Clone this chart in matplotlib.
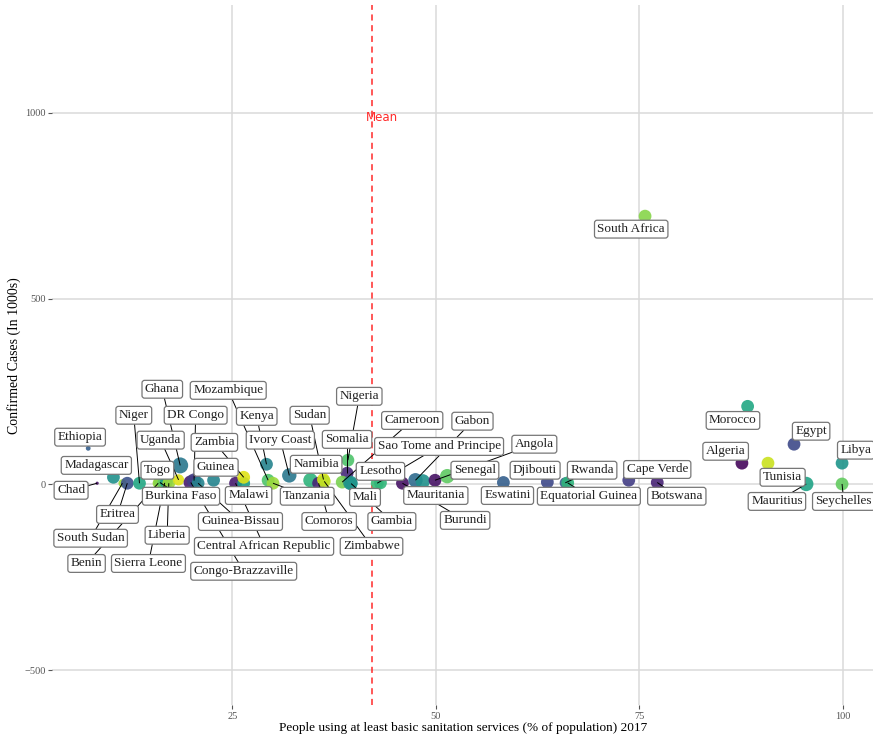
import numpy as np
import matplotlib
matplotlib.use("Agg")
import matplotlib.pyplot as plt

# sanitation access (% of population, 2017) vs confirmed cases (thousands)
countries = [
    "Chad", "Ethiopia", "Madagascar", "South Sudan", "Eritrea", "Niger",
    "Benin", "Burkina Faso", "Sierra Leone", "Togo", "Liberia", "Ghana",
    "Uganda", "Congo-Brazzaville", "DR Congo", "Guinea-Bissau", "Guinea",
    "Central African Republic", "Malawi", "Zambia", "Mozambique", "Kenya",
    "Tanzania", "Ivory Coast", "Namibia", "Comoros", "Sudan", "Zimbabwe",
    "Nigeria", "Somalia", "Cameroon", "Mali", "Gambia", "Sao Tome and Principe",
    "Lesotho", "Burundi", "Gabon", "Mauritania", "Angola", "Senegal",
    "Eswatini", "Djibouti", "Rwanda", "Equatorial Guinea", "Cape Verde",
    "Botswana", "South Africa", "Morocco", "Algeria", "Tunisia", "Egypt",
    "Mauritius", "Libya", "Seychelles",
]
sanitation = [
    8.4, 7.3, 10.4, 11.5, 12.1, 13.6,
    15.9, 16.1, 16.7, 16.9, 17.2, 18.6,
    18.4, 19.9, 20.3, 20.8, 22.7,
    25.4, 26.4, 26.4, 29.4, 29.2,
    30.0, 32.0, 34.6, 35.6, 36.2, 36.3,
    39.2, 39.1, 38.5, 39.5, 39.6, 42.8,
    43.2, 45.9, 47.5, 48.4, 49.9, 51.4,
    58.3, 63.7, 65.9, 66.2, 73.7,
    77.2, 75.7, 88.3, 87.6, 90.8, 94.0,
    95.5, 99.9, 99.9,
]
cases = [
    3, 97, 19, 3, 3, 3,
    3, 5, 4, 6, 3, 51,
    12, 5, 10, 3, 11,
    3, 3, 19, 11, 54,
    3, 24, 11, 3, 13, 8,
    65, 30, 6, 4, 2, 3,
    4, 3, 11, 8, 11, 22,
    5, 6, 4, 4, 11,
    5, 722, 210, 57, 57, 108,
    1, 57, 1,
]
# colour variable (0-1 on viridis) and size variable
colour_value = [
    0.05, 0.30, 0.50, 0.85, 0.25, 0.60,
    0.85, 0.82, 0.75, 0.55, 0.85, 0.40,
    0.95, 0.08, 0.18, 0.45, 0.45,
    0.08, 0.55, 0.95, 0.72, 0.45,
    0.85, 0.40, 0.65, 0.10, 0.95, 0.90,
    0.72, 0.12, 0.80, 0.50, 0.52, 0.68,
    0.66, 0.05, 0.35, 0.50, 0.05, 0.75,
    0.30, 0.22, 0.28, 0.65, 0.18,
    0.10, 0.82, 0.60, 0.02, 0.92, 0.22,
    0.58, 0.52, 0.76,
]
point_size = [
    2, 3, 8, 5, 8, 8,
    7, 8, 9, 8, 8, 10,
    7, 9, 9, 8, 8,
    8, 8, 8, 8, 8,
    8, 9, 9, 8, 8, 8,
    8, 8, 8, 9, 8, 8,
    8, 8, 9, 9, 8, 9,
    8, 8, 7, 8, 8,
    8, 8, 8, 8, 8, 8,
    9, 8, 8,
]
mean_sanitation = 42.2

# label centres in data units (repelled positions)
label_x = [
    5.2, 6.3, 8.3, 7.6, 10.9, 12.9,
    7.1, 18.7, 14.7, 15.8, 17.0, 16.4,
    16.2, 26.4, 20.5, 26.0, 23.0,
    28.9, 27.0, 22.8, 24.5, 28.0,
    34.2, 30.9, 35.3, 36.9, 34.5, 42.1,
    40.6, 39.1, 47.1, 41.3, 44.6, 50.4,
    43.2, 53.6, 54.5, 50.0, 62.1, 54.8,
    58.8, 62.2, 69.2, 68.8, 77.2,
    79.6, 74.0, 86.5, 85.6, 92.6, 96.1,
    91.9, 101.6, 100.1,
]
label_y = [
    -16, 127, 51, -145, -81, 186,
    -213, -32, -213, 38, -137, 256,
    119, -234, 186, -100, 46,
    -167, -30, 113, 253, 183,
    -32, 119, 54, -100, 186, -167,
    237, 121, 172, -35, -100, 102,
    35, -97, 170, -30, 108, 38,
    -30, 38, 38, -32, 40,
    -32, 687, 172, 89, 19, 143,
    -46, 92, -46,
]

plt.rcParams["font.family"] = ["Liberation Serif", "DejaVu Serif"]

fig = plt.figure(figsize=(8.73, 7.34), dpi=100)
ax = fig.add_axes([0.06, 0.039, 0.94, 0.954])

cmap = plt.get_cmap("viridis")
sizes = (np.array(point_size) * 1.15) ** 2
ax.scatter(sanitation, cases, s=sizes, c=[cmap(v) for v in colour_value],
           alpha=0.9, linewidths=0, zorder=2)

ax.axvline(mean_sanitation, color="#ff2a2a", lw=1.1, ls=(0, (4, 3)), zorder=1.5)
ax.text(mean_sanitation + 1.2, 988, "Mean", color="#ff2a2a", fontsize=8.5,
        family="DejaVu Sans", ha="center", va="center", zorder=5)

ax.set_xlim(2.9, 103.7)
ax.set_ylim(-595, 1290)
ax.set_xticks([25, 50, 75, 100])
ax.set_yticks([-500, 0, 500, 1000])
ax.grid(True, color="#dadada", lw=1.1)
ax.set_axisbelow(True)
for side in ax.spines.values():
    side.set_visible(False)
ax.tick_params(colors="#555555", labelsize=7.5, length=3, width=0.8, pad=1.5)
ax.set_xlabel("People using at least basic sanitation services (% of population) 2017",
              fontsize=9.5, labelpad=1)
ax.set_ylabel("Confirmed Cases (In 1000s)", fontsize=10, labelpad=3)

texts = []
for name, lx, ly in zip(countries, label_x, label_y):
    t = ax.text(lx, ly, name, fontsize=9.5, ha="center", va="center", color="#222222",
                zorder=4,
                bbox=dict(boxstyle="round,pad=0.22,rounding_size=0.2", fc="white",
                          ec="#777777", lw=0.9))
    texts.append(t)

# leader segments from each point to the edge of its label box
fig.canvas.draw()
renderer = fig.canvas.get_renderer()
inv = ax.transData.inverted()
for t, sx, cy in zip(texts, sanitation, cases):
    bb = t.get_bbox_patch().get_window_extent(renderer)
    px, py = ax.transData.transform((sx, cy))
    cx, cyy = (bb.x0 + bb.x1) / 2, (bb.y0 + bb.y1) / 2
    dx, dy = px - cx, py - cyy
    hw, hh = bb.width / 2, bb.height / 2
    if abs(dx) <= hw and abs(dy) <= hh:
        continue
    s = min(hw / abs(dx) if dx else np.inf, hh / abs(dy) if dy else np.inf)
    ex, ey = cx + s * dx, cyy + s * dy
    if np.hypot(px - ex, py - ey) < 8:
        continue
    (ax_, ay_), (bx_, by_) = inv.transform([(px, py), (ex, ey)])
    ax.plot([ax_, bx_], [ay_, by_], color="black", lw=0.7, zorder=3,
            solid_capstyle="butt")

fig.savefig("out.png", dpi=100)
